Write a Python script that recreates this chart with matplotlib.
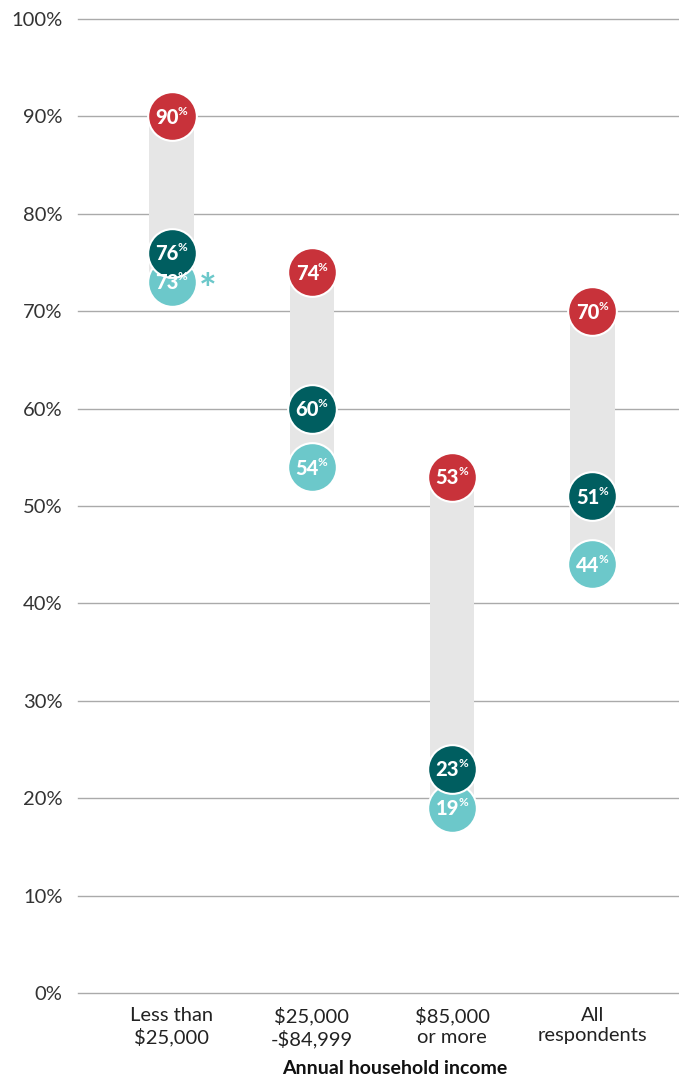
import matplotlib
matplotlib.use("Agg")
import matplotlib.pyplot as plt

categories = ["Less than\n$25,000", "$25,000\n-$84,999", "$85,000\nor more", "All\nrespondents"]
red_vals = [90, 74, 53, 70]
dark_vals = [76, 60, 23, 51]
light_vals = [73, 54, 19, 44]
yticks = [0, 10, 20, 30, 40, 50, 60, 70, 80, 90, 100]
ytick_labels = [f"{v}%" for v in yticks]
xlabel = "Annual household income"

RED = "#C8323A"
DARK = "#005E60"
LIGHT = "#6CC8CA"
BAR = "#E6E6E6"

plt.rcParams['font.family'] = ['Lato', 'DejaVu Sans']

fig = plt.figure(figsize=(6.79, 10.78), dpi=100)
ax = fig.add_axes([78/679, 85/1078, 1 - 78/679, (993 - 19)/1078])
ax.set_xlim(-0.67, 3.62)
ax.set_ylim(0, 100)

for s in ax.spines.values():
    s.set_visible(False)
ax.set_yticks(yticks)
ax.set_yticklabels(ytick_labels, fontsize=14.5, color="#333333")
ax.tick_params(axis='y', length=0, pad=11)
for v in yticks:
    ax.axhline(v, color="#AAAAAA", linewidth=1.0, zorder=0, clip_on=False)

x = list(range(len(categories)))
ax.set_xticks(x)
ax.set_xticklabels(categories, fontsize=14.5, color="#222222", linespacing=1.25)
ax.tick_params(axis='x', length=0, pad=10)
ax.set_xlabel(xlabel, fontsize=14, fontweight='bold', color="#111111")
ax.xaxis.set_label_coords((395 - 78) / 601, -(1068 - 993) / 974, transform=ax.transAxes)
ax.xaxis.label.set_va('center')

for i in x:
    lo = min(light_vals[i], dark_vals[i], red_vals[i])
    hi = max(light_vals[i], dark_vals[i], red_vals[i])
    ax.bar(i, hi - lo, bottom=lo, width=0.32, color=BAR, zorder=2)

S = 1230
for vals, col, z in [(light_vals, LIGHT, 3), (dark_vals, DARK, 4), (red_vals, RED, 5)]:
    ax.scatter(x, vals, s=S, color=col, edgecolor="white", linewidth=1.5, zorder=z)
    for i, v in zip(x, vals):
        ax.annotate(str(v), (i, v), xytext=(7, -1), textcoords='offset pixels',
                    ha='right', va='center', fontsize=14.5, fontweight='black',
                    color='white', zorder=10)
        ax.annotate("%", (i, v), xytext=(6, 5), textcoords='offset pixels',
                    ha='left', va='center', fontsize=8.5, fontweight='bold',
                    color='white', zorder=10)

ax.annotate("*", (0, light_vals[0]), xytext=(36, -10), textcoords='offset pixels',
            ha='center', va='center', fontsize=30, fontweight='bold', color=LIGHT)

fig.savefig("out.png", dpi=100)
